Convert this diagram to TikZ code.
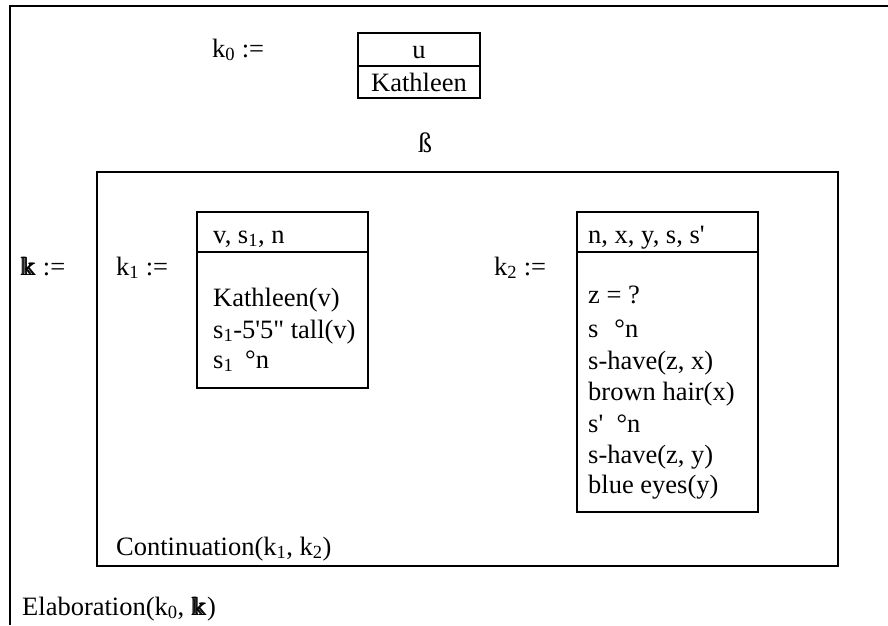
\documentclass[tikz,border=0pt]{standalone}
\usepackage{amssymb}
\usepackage{fontspec}
\setmainfont{Liberation Serif}[Ligatures=TeXOff]
\newcommand{\bbkk}{\rlap{$\Bbbk$}\hspace{0.7pt}\rlap{$\Bbbk$}\hspace{0.7pt}$\Bbbk$}
\begin{document}
\begin{tikzpicture}[x=1pt,y=-1pt,
  txt/.style={anchor=base west,inner sep=0pt,font=\fontsize{26.5}{30}\selectfont},
  ctxt/.style={anchor=base,inner sep=0pt,font=\fontsize{26.5}{30}\selectfont},
  frame/.style={draw,line width=1.6pt},
  thick frame/.style={draw,line width=2.4pt}]
\useasboundingbox (0,0) rectangle (888,625);
% outer box (only top and left edges visible)
\draw[line width=1.8pt] (10,625) -- (10,6) -- (888,6);
% k0
\node[txt] (k0l) at (212,57) {k\textsubscript{0} :=};
\draw[thick frame] (358,33) rectangle (480,98);
\draw[thick frame] (358,66) -- (480,66);
\node[ctxt] (k0u) at (419,58) {u};
\node[ctxt] (k0k) at (419,91) {Kathleen};
\node[ctxt,font=\fontsize{28}{30}\selectfont] (beta) at (425,152) {ß};
% K :=
\node[txt] (Kl) at (20,275) {\bbkk\ :=};
% inner box
\draw[frame] (97,172) rectangle (838,566);
% k1
\node[txt] (k1l) at (116,275) {k\textsubscript{1} :=};
\draw[frame] (197,212) rectangle (368,388);
\draw[frame] (197,252) -- (368,252);
\node[txt] (k1h) at (213,243) {v, s\textsubscript{1}, n};
\node[txt] (k1a) at (213,306) {Kathleen(v)};
\node[txt] (k1b) at (213,338) {s\textsubscript{1}-5'5" tall(v)};
\node[txt] (k1c) at (213,368) {s\textsubscript{1}\hspace{0.45em}°n};
% k2
\node[txt] (k2l) at (494,275) {k\textsubscript{2} :=};
\draw[frame] (577,212) rectangle (758,512);
\draw[frame] (577,252) -- (758,252);
\node[txt] (k2h) at (588,243) {n, x, y, s, s'};
\node[txt] (k2a) at (588,303) {z = ?};
\node[txt] (k2b) at (588,337) {s\hspace{0.6em}°n};
\node[txt] (k2c) at (588,369) {s-have(z, x)};
\node[txt] (k2d) at (588,400) {brown hair(x)};
\node[txt] (k2e) at (588,432) {s'\hspace{0.5em}°n};
\node[txt] (k2f) at (588,463) {s-have(z, y)};
\node[txt] (k2g) at (588,493) {blue eyes(y)};
% relations
\node[txt] (cont) at (116,555) {Continuation(k\textsubscript{1}, k\textsubscript{2})};
\node[txt] (elab) at (22,615) {Elaboration(k\textsubscript{0}, \bbkk)};
\end{tikzpicture}
\end{document}
